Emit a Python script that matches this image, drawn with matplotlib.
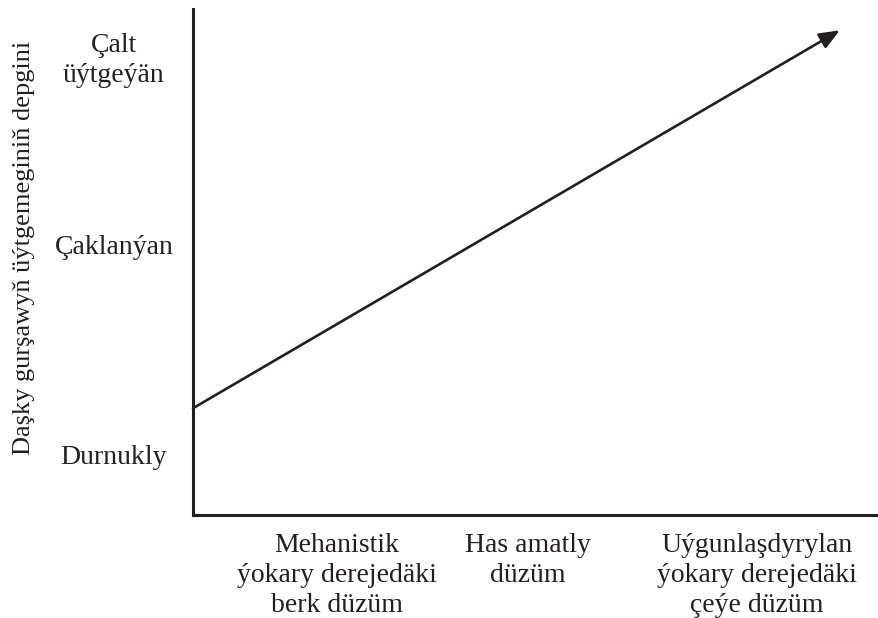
import matplotlib.pyplot as plt

plt.rcParams['font.family'] = ['Liberation Serif', 'DejaVu Serif']

ink = '#231f20'

# categories along the axes (positions in axes units 0..1)
x_labels = ['Mehanistik\nýokary derejedäki\nberk düzüm',
            'Has amatly\ndüzüm',
            'Uýgunlaşdyrylan\nýokary derejedäki\nçeýe düzüm']
x_pos = [0.21, 0.488, 0.822]
y_labels = ['Durnukly', 'Çaklanýan', 'Çalt\nüýtgeýän']
y_pos = [0.119, 0.534, 0.909]
y_title = 'Daşky gurşawyň üýtgemeginiň depgini'

# trend line: start and end point
trend_x = [0.0, 0.943]
trend_y = [0.211, 0.958]

fig = plt.figure(figsize=(8.79, 6.18), dpi=100)
ax = fig.add_axes([193 / 879, 103 / 618, 686 / 879, 506 / 618])
ax.set_xlim(0, 1)
ax.set_ylim(0, 1)

for s in ['top', 'right']:
    ax.spines[s].set_visible(False)
for s in ['left', 'bottom']:
    ax.spines[s].set_linewidth(2.2)
    ax.spines[s].set_color(ink)
    ax.spines[s].set_capstyle('projecting')

ax.set_xticks(x_pos)
ax.set_xticklabels(x_labels, fontsize=20, color=ink, linespacing=1.26,
                   multialignment='center')
ax.set_yticks(y_pos)
ax.set_yticklabels(y_labels, fontsize=20, color=ink, linespacing=1.26,
                   multialignment='center', ha='center')
ax.tick_params(axis='x', length=0, pad=13)
ax.tick_params(axis='y', length=0, pad=57)

ax.text(-0.246, 0.528, y_title, transform=ax.transAxes, rotation=90,
        ha='center', va='center', fontsize=19, color=ink)

ax.annotate('', xy=(trend_x[1], trend_y[1]), xytext=(trend_x[0], trend_y[0]),
            arrowprops=dict(arrowstyle='-|>,head_length=0.62,head_width=0.25',
                            mutation_scale=20, color=ink, lw=1.9,
                            shrinkA=0, shrinkB=0))

fig.savefig('out.png', dpi=100)
